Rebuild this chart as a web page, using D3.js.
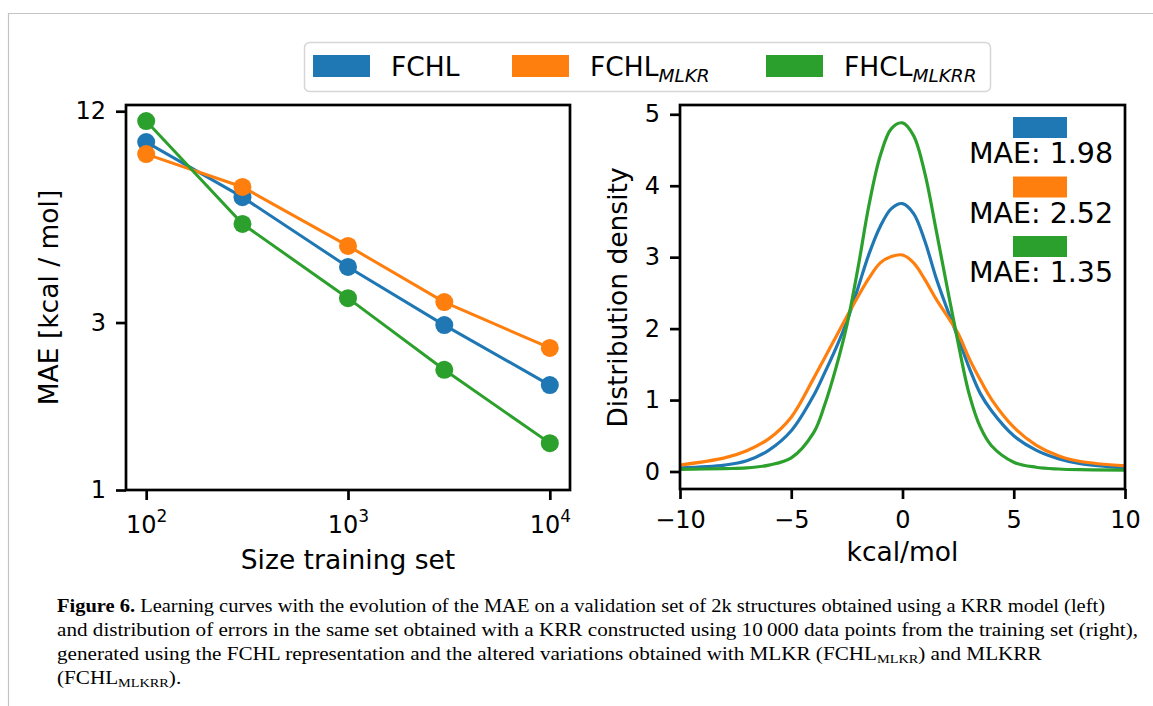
<!DOCTYPE html>
<html>
<head>
<meta charset="utf-8">
<script src="https://cdn.jsdelivr.net/npm/d3@7"></script>
<style>
  body { margin: 0; background: #fff; }
  svg { display: block; }
  text { font-family: "DejaVu Sans", sans-serif; fill: #000; }
  .caption text { font-family: "Liberation Serif", serif; }
</style>
</head>
<body>
<svg id="chart" width="1153" height="706"></svg>
<script>
'use strict';

// learning curves (left)
const trainSizes = [100, 300, 1000, 3000, 10000];
const maeFCHL = [9.8, 6.83, 4.32, 2.95, 1.99];
const maeMLKR = [9.06, 7.3, 4.96, 3.43, 2.54];
const maeMLKRR = [11.25, 5.73, 3.52, 2.2, 1.36];
const maeTicks = [1, 3, 12];
const sizeTicks = [100, 1000, 10000];

// error distributions (right)
const errGrid = [-10, -8, -7, -6, -5, -4, -3.5, -3, -2.5, -2, -1.5, -1, -0.5, 0,
    0.5, 1, 1.5, 2, 2.5, 3, 3.5, 4, 5, 6, 7, 8, 10];
const densFCHL = [0.05, 0.09, 0.15, 0.30, 0.57, 1.06, 1.38, 1.72, 2.10, 2.57, 3.05, 3.43, 3.68, 3.75,
    3.61, 3.23, 2.72, 2.28, 1.87, 1.45, 1.09, 0.85, 0.50, 0.30, 0.18, 0.11, 0.05];
const densMLKR = [0.09, 0.19, 0.29, 0.46, 0.76, 1.30, 1.59, 1.88, 2.17, 2.45, 2.71, 2.92, 3.01, 3.03,
    2.92, 2.69, 2.42, 2.18, 1.93, 1.58, 1.28, 1.01, 0.62, 0.37, 0.22, 0.14, 0.08];
const densMLKRR = [0.03, 0.04, 0.05, 0.09, 0.19, 0.54, 0.93, 1.44, 2.05, 2.85, 3.74, 4.42, 4.80, 4.88,
    4.70, 4.18, 3.40, 2.59, 1.80, 1.08, 0.62, 0.36, 0.13, 0.06, 0.035, 0.025, 0.02];
const errTicks = [-10, -5, 0, 5, 10];
const densTicks = [0, 1, 2, 3, 4, 5];

const seriesNames = ['FCHL', 'FCHL', 'FHCL'];
const seriesSubs = ['', 'MLKR', 'MLKRR'];
const maeLabels = ['MAE: 1.98', 'MAE: 2.52', 'MAE: 1.35'];
const colors = ['#1f77b4', '#ff7f0e', '#2ca02c'];

const captionLines = [
    [{b: 'Figure 6.'}, {t: ' Learning curves with the evolution of the MAE on a validation set of 2k structures obtained using a KRR model (left)'}],
    [{t: 'and distribution of errors in the same set obtained with a KRR constructed using 10\u2009000 data points from the training set (right),'}],
    [{t: 'generated using the FCHL representation and the altered variations obtained with MLKR (FCHL'}, {s: 'MLKR'}, {t: ') and MLKRR'}],
    [{t: '(FCHL'}, {s: 'MLKRR'}, {t: ').'}]
];
const captionLeft = 57;
// right ends of the two full lines; the short lines keep the same squeeze as line 2
const captionEnds = [1105, 1138, null, null];

const svg = d3.select('#chart');
const lw = 2.7;

// page frame
svg.append('path')
    .attr('d', 'M8.5,706 L8.5,13.5 L1153,13.5')
    .attr('fill', 'none')
    .attr('stroke', '#c4c4c4')
    .attr('stroke-width', 1.2);

function styleAxis(g) {
    g.select('.domain').remove();
    g.selectAll('.tick line').attr('stroke', '#000').attr('stroke-width', lw);
    g.selectAll('.tick text').attr('font-size', 24).attr('font-family', '"DejaVu Sans", sans-serif');
}

// ---------- left panel ----------
const xL = d3.scaleLog().domain([Math.pow(10, 1.9), Math.pow(10, 4.1)]).range([126, 570]);
const yL = d3.scaleLog().domain([1, 12.5]).range([490, 105]);

const left = svg.append('g');
const lineL = d3.line().x((d, i) => xL(trainSizes[i])).y(d => yL(d));

[maeFCHL, maeMLKR, maeMLKRR].forEach((vals, k) => {
    left.append('path')
        .attr('d', lineL(vals))
        .attr('fill', 'none')
        .attr('stroke', colors[k])
        .attr('stroke-width', 3);
    left.selectAll('.dot' + k)
        .data(vals)
        .enter()
        .append('circle')
        .attr('cx', (d, i) => xL(trainSizes[i]))
        .attr('cy', d => yL(d))
        .attr('r', 9)
        .attr('fill', colors[k]);
});

left.append('g')
    .attr('transform', 'translate(126,0)')
    .call(d3.axisLeft(yL).tickValues(maeTicks).tickFormat(d3.format('d')).tickSize(10).tickPadding(10))
    .call(styleAxis);

const bottomL = left.append('g')
    .attr('transform', 'translate(0,490)')
    .call(d3.axisBottom(xL).tickValues(sizeTicks).tickFormat(() => '').tickSize(10).tickPadding(10))
    .call(styleAxis);
bottomL.selectAll('.tick text')
    .attr('dy', null)
    .attr('y', 43)
    .each(function (d) {
        const t = d3.select(this);
        t.append('tspan').text('10');
        t.append('tspan').attr('font-size', 17).attr('dy', -11).text(Math.round(Math.log10(d)));
    });

left.append('rect')
    .attr('x', 126).attr('y', 105).attr('width', 444).attr('height', 385)
    .attr('fill', 'none').attr('stroke', '#000').attr('stroke-width', lw);

left.append('text')
    .attr('x', 348).attr('y', 569)
    .attr('text-anchor', 'middle')
    .attr('font-size', 26.5)
    .text('Size training set');
left.append('text')
    .attr('transform', 'translate(58,297.5) rotate(-90)')
    .attr('text-anchor', 'middle')
    .attr('font-size', 26.5)
    .text('MAE [kcal / mol]');

// ---------- right panel ----------
const xR = d3.scaleLinear().domain([-10, 10]).range([680, 1125]);
const yR = d3.scaleLinear().domain([-0.245, 5.13]).range([489, 105]);

const right = svg.append('g');
const lineR = d3.line()
    .x((d, i) => xR(errGrid[i]))
    .y(d => yR(d))
    .curve(d3.curveCatmullRom.alpha(0.5));

[densFCHL, densMLKR, densMLKRR].forEach((vals, k) => {
    right.append('path')
        .attr('d', lineR(vals))
        .attr('fill', 'none')
        .attr('stroke', colors[k])
        .attr('stroke-width', 3.2);
});

right.append('g')
    .attr('transform', 'translate(680,0)')
    .call(d3.axisLeft(yR).tickValues(densTicks).tickFormat(d3.format('d')).tickSize(10).tickPadding(10))
    .call(styleAxis);

right.append('g')
    .attr('transform', 'translate(0,489)')
    .call(d3.axisBottom(xR).tickValues(errTicks).tickFormat(d3.format('d')).tickSize(10).tickPadding(12))
    .call(styleAxis);

right.append('rect')
    .attr('x', 680).attr('y', 105).attr('width', 445).attr('height', 384)
    .attr('fill', 'none').attr('stroke', '#000').attr('stroke-width', lw);

right.append('text')
    .attr('x', 902.5).attr('y', 561)
    .attr('text-anchor', 'middle')
    .attr('font-size', 26.5)
    .text('kcal/mol');
right.append('text')
    .attr('transform', 'translate(627,297.5) rotate(-90)')
    .attr('text-anchor', 'middle')
    .attr('font-size', 26.5)
    .text('Distribution density');

// MAE legend inside right panel
maeLabels.forEach((lab, k) => {
    const top = 117 + k * 59.5;
    right.append('rect')
        .attr('x', 1013).attr('y', top).attr('width', 54).attr('height', 21)
        .attr('fill', colors[k]);
    right.append('text')
        .attr('x', 1041).attr('y', top + 46)
        .attr('text-anchor', 'middle')
        .attr('font-size', 28.5)
        .text(lab);
});

// ---------- top legend ----------
const legend = svg.append('g');
legend.append('rect')
    .attr('x', 304.5).attr('y', 42.5).attr('width', 686).attr('height', 49)
    .attr('rx', 5)
    .attr('fill', '#fff')
    .attr('stroke', '#d6d6d6')
    .attr('stroke-width', 1.5);
const legX = [313, 512, 766];
seriesNames.forEach((name, k) => {
    legend.append('rect')
        .attr('x', legX[k]).attr('y', 55).attr('width', 57).attr('height', 22)
        .attr('fill', colors[k]);
    const t = legend.append('text')
        .attr('x', legX[k] + 78).attr('y', 76)
        .attr('font-size', 26.5);
    t.append('tspan').text(name);
    if (seriesSubs[k]) {
        t.append('tspan')
            .attr('font-size', 18.5)
            .attr('font-style', 'italic')
            .attr('dy', 6)
            .text(seriesSubs[k]);
    }
});

// ---------- caption ----------
const cap = svg.append('g').attr('class', 'caption');
const capTexts = captionLines.map((parts, i) => {
    const t = cap.append('text')
        .attr('x', captionLeft)
        .attr('y', 612 + i * 24)
        .attr('font-size', 18.5);
    let afterSub = false;
    parts.forEach(p => {
        if (p.b) {
            t.append('tspan').attr('font-weight', 'bold').text(p.b);
        } else if (p.s) {
            t.append('tspan').attr('font-size', 12.5).attr('dy', 2.5).text(p.s);
            afterSub = true;
        } else {
            const ts = t.append('tspan').text(p.t);
            if (afterSub) ts.attr('dy', -2.5);
            afterSub = false;
        }
    });
    return t;
});
const natural = capTexts.map(t => t.node().getComputedTextLength());
const squeeze = (captionEnds[1] - captionLeft) / natural[1];
capTexts.forEach((t, i) => {
    const len = captionEnds[i] ? captionEnds[i] - captionLeft : natural[i] * squeeze;
    t.attr('textLength', len).attr('lengthAdjust', 'spacingAndGlyphs');
});
</script>
</body>
</html>
